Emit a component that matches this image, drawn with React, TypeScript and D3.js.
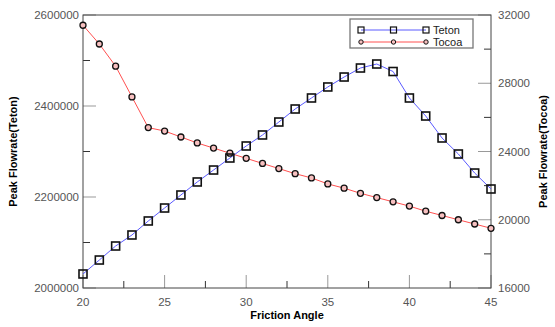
import { useEffect, useRef } from 'react'
import * as d3 from 'd3'

// Friction angle (x) values
const angles = [20, 21, 22, 23, 24, 25, 26, 27, 28, 29, 30, 31, 32, 33, 34, 35, 36, 37, 38, 39, 40, 41, 42, 43, 44, 45]

// Peak flowrate Teton (left axis)
const teton = [
  2030800, 2061500, 2092300, 2116500, 2147300, 2175800, 2204400, 2233000, 2259300, 2285700,
  2312100, 2336300, 2364800, 2393400, 2417600, 2441800, 2463700, 2483500, 2492300, 2475800,
  2417600, 2378000, 2329700, 2294500, 2252700, 2217600,
]

// Peak flowrate Tocoa (right axis)
const tocoa = [
  31400, 30300, 29000, 27200, 25400, 25200, 24850, 24500, 24200, 23900,
  23600, 23300, 23000, 22700, 22450, 22100, 21850, 21550, 21300, 21050,
  20800, 20500, 20250, 20000, 19750, 19500,
]

const xTicks = [20, 25, 30, 35, 40, 45]
const xMinor = [22.5, 27.5, 32.5, 37.5, 42.5]
const leftTicks = [2000000, 2200000, 2400000, 2600000]
const leftMinor = [2100000, 2300000, 2500000]
const rightTicks = [16000, 20000, 24000, 28000, 32000]
const rightMinor = [18000, 22000, 26000, 30000]

const seriesNames = ['Teton', 'Tocoa']

export default function App() {
  const svgRef = useRef<SVGSVGElement | null>(null)

  useEffect(() => {
    if (!svgRef.current) return
    const root = d3.select(svgRef.current)
    root.selectAll('*').remove()

    const W = 555
    const H = 327
    const margin = { top: 15, right: 64, bottom: 39, left: 83 }
    const width = W - margin.left - margin.right
    const height = H - margin.top - margin.bottom
    const font = 'Liberation Sans, Arial, sans-serif'

    root.append('rect').attr('width', W).attr('height', H).attr('fill', '#fff')

    const g = root.append('g').attr('transform', `translate(${margin.left},${margin.top})`)

    const x = d3.scaleLinear().domain([20, 45]).range([0, width])
    const yL = d3.scaleLinear().domain([2000000, 2600000]).range([height, 0])
    const yR = d3.scaleLinear().domain([16000, 32000]).range([height, 0])

    // Ticks (inside the frame)
    const majorColor = '#999'
    const minorColor = '#333'
    xTicks.forEach(t => {
      g.append('line').attr('x1', x(t)).attr('x2', x(t)).attr('y1', height).attr('y2', height - 13)
        .attr('stroke', majorColor).attr('stroke-width', 1)
    })
    xMinor.forEach(t => {
      g.append('line').attr('x1', x(t)).attr('x2', x(t)).attr('y1', height).attr('y2', height - 7)
        .attr('stroke', minorColor).attr('stroke-width', 1)
    })
    leftTicks.forEach(t => {
      g.append('line').attr('x1', 0).attr('x2', 13).attr('y1', yL(t)).attr('y2', yL(t))
        .attr('stroke', majorColor).attr('stroke-width', 1)
    })
    leftMinor.forEach(t => {
      g.append('line').attr('x1', 0).attr('x2', 7).attr('y1', yL(t)).attr('y2', yL(t))
        .attr('stroke', minorColor).attr('stroke-width', 1)
    })
    rightTicks.forEach(t => {
      g.append('line').attr('x1', width).attr('x2', width - 13).attr('y1', yR(t)).attr('y2', yR(t))
        .attr('stroke', majorColor).attr('stroke-width', 1)
    })
    rightMinor.forEach(t => {
      g.append('line').attr('x1', width).attr('x2', width - 7).attr('y1', yR(t)).attr('y2', yR(t))
        .attr('stroke', minorColor).attr('stroke-width', 1)
    })

    // Frame
    g.append('rect').attr('x', 0).attr('y', 0).attr('width', width).attr('height', height)
      .attr('fill', 'none').attr('stroke', '#444').attr('stroke-width', 1)

    // Tick labels
    const labelColor = '#555'
    xTicks.forEach(t => {
      g.append('text').attr('x', x(t)).attr('y', height + 18).attr('text-anchor', 'middle')
        .style('font-family', font).style('font-size', '11.5px').style('fill', labelColor).text(t)
    })
    leftTicks.forEach(t => {
      g.append('text').attr('x', -4).attr('y', yL(t) + 4).attr('text-anchor', 'end')
        .style('font-family', font).style('font-size', '11.5px').style('fill', labelColor).text(t)
    })
    rightTicks.forEach(t => {
      g.append('text').attr('x', width + 7).attr('y', yR(t) + 4).attr('text-anchor', 'start')
        .style('font-family', font).style('font-size', '11.5px').style('fill', labelColor).text(t)
    })

    // Axis titles
    g.append('text').attr('x', width / 2).attr('y', height + 31).attr('text-anchor', 'middle')
      .style('font-family', font).style('font-size', '11px').style('font-weight', 'bold').text('Friction Angle')
    g.append('text').attr('transform', `translate(${-66},${height / 2}) rotate(-90)`).attr('text-anchor', 'middle')
      .style('font-family', font).style('font-size', '11px').style('font-weight', 'bold').text('Peak Flowrate(Teton)')
    g.append('text').attr('transform', `translate(${width + 56},${height / 2}) rotate(-90)`).attr('text-anchor', 'middle')
      .style('font-family', font).style('font-size', '11px').style('font-weight', 'bold').text('Peak Flowrate(Tocoa)')

    const blue = '#5a5aff'
    const red = '#ff5050'

    const lineL = d3.line<number>().x((_, i) => x(angles[i])).y(d => yL(d))
    const lineR = d3.line<number>().x((_, i) => x(angles[i])).y(d => yR(d))

    g.append('path').datum(tocoa).attr('d', lineR).attr('fill', 'none').attr('stroke', red).attr('stroke-width', 1)
    g.append('path').datum(teton).attr('d', lineL).attr('fill', 'none').attr('stroke', blue).attr('stroke-width', 1)

    g.selectAll('circle.tocoa').data(tocoa).enter().append('circle').attr('class', 'tocoa')
      .attr('cx', (_, i) => x(angles[i])).attr('cy', d => yR(d)).attr('r', 3)
      .attr('fill', '#f7c0c0').attr('stroke', '#111').attr('stroke-width', 1.3)

    g.selectAll('rect.teton').data(teton).enter().append('rect').attr('class', 'teton')
      .attr('x', (_, i) => x(angles[i]) - 4).attr('y', d => yL(d) - 4).attr('width', 8).attr('height', 8)
      .attr('fill', 'none').attr('stroke', '#111').attr('stroke-width', 1.6)

    // Legend
    const lg = root.append('g').attr('transform', 'translate(350,19)')
    lg.append('rect').attr('x', 0).attr('y', 0).attr('width', 123).attr('height', 29)
      .attr('fill', '#fff').attr('stroke', '#777').attr('stroke-width', 1.3)
    seriesNames.forEach((name, i) => {
      const yy = 11 + i * 12
      const col = i === 0 ? blue : red
      lg.append('line').attr('x1', 11).attr('x2', 76).attr('y1', yy).attr('y2', yy).attr('stroke', col)
      ;[11, 43.5, 76].forEach(mx => {
        if (i === 0) {
          lg.append('rect').attr('x', mx - 3).attr('y', yy - 3).attr('width', 6).attr('height', 6)
            .attr('fill', 'none').attr('stroke', '#111').attr('stroke-width', 1.2)
        } else {
          lg.append('circle').attr('cx', mx).attr('cy', yy).attr('r', 2.2)
            .attr('fill', '#f7c0c0').attr('stroke', '#111').attr('stroke-width', 1)
        }
      })
      lg.append('text').attr('x', 83).attr('y', yy + 4).style('font-family', font).style('font-size', '11px')
        .style('fill', '#222').text(name)
    })
  }, [])

  return (
    <svg ref={svgRef} width={555} height={327} style={{ position: 'absolute', left: 0, top: 0, display: 'block' }} />
  )
}
